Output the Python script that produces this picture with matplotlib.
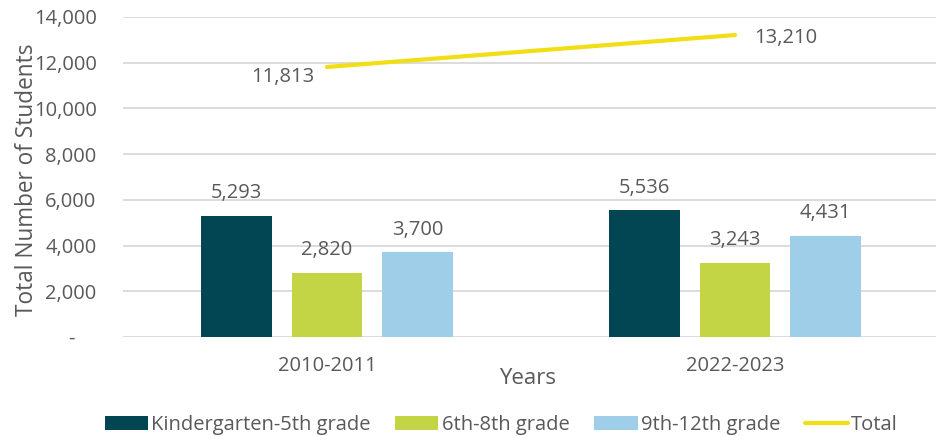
import numpy as np
import matplotlib
matplotlib.use("Agg")
import matplotlib.pyplot as plt
from matplotlib.ticker import FuncFormatter

# enrollment by grade band
years = ["2010-2011", "2022-2023"]
k5 = [5293, 5536]
g6_8 = [2820, 3243]
g9_12 = [3700, 4431]
total = [11813, 13210]

series_names = ["Kindergarten-5th grade", "6th-8th grade", "9th-12th grade"]
colores = ["#024653", "#C3D545", "#9FCFE8"]
amarillo = "#F2DE14"
gris = "#595959"
fs = 14.5

plt.rcParams["font.family"] = ["Open Sans", "DejaVu Sans"]
plt.rcParams["font.size"] = fs

fig = plt.figure(figsize=(9.37, 4.36), dpi=100)
ax = fig.add_axes([123 / 937, 1 - 337 / 436, 816 / 937, 320 / 436])

x = np.arange(len(years))
ancho = 0.174
sep = 0.222
barras = []
for i, (vals, nombre, c) in enumerate(zip([k5, g6_8, g9_12], series_names, colores)):
    pos = x + (i - 1) * sep
    barras.append(ax.bar(pos, vals, ancho, color=c, label=nombre, zorder=3))
    for xp, v in zip(pos, vals):
        ax.annotate(f"{v:,}", (xp, v), xytext=(0, 16.5), textcoords="offset points",
                    ha="center", va="center", color=gris, fontsize=fs)

linea, = ax.plot(x, total, color=amarillo, lw=3, solid_capstyle="round", label="Total", zorder=4)
ax.annotate(f"{total[0]:,}", (x[0], total[0]), xytext=(-9, -7.5), textcoords="offset points",
            ha="right", va="center", color=gris, fontsize=fs)
ax.annotate(f"{total[1]:,}", (x[1], total[1]), xytext=(14, -2), textcoords="offset points",
            ha="left", va="center", color=gris, fontsize=fs)

ax.set_xlim(-0.5, 1.5)
ax.set_ylim(0, 14000)
ax.set_yticks(np.arange(0, 14001, 2000))
ax.yaxis.set_major_formatter(FuncFormatter(lambda v, p: "-    " if v == 0 else f"{int(v):,}"))
ax.set_xticks(x)
ax.set_xticklabels(years)
ax.tick_params(axis="both", length=0, colors=gris, labelsize=fs)
ax.tick_params(axis="y", pad=19)
ax.tick_params(axis="x", pad=14)
ax.grid(axis="y", color="#d9d9d9", lw=1.3, zorder=0)
for s in ax.spines.values():
    s.set_visible(False)

ax.set_ylabel("Total Number of Students", color=gris, fontsize=16.3)
ax.yaxis.set_label_coords(-0.103, 0.49)
ax.set_xlabel("Years", color=gris, fontsize=16)
ax.xaxis.set_label_coords(0.496, -0.098)

fig.legend(barras + [linea], series_names + ["Total"], loc="center",
           bbox_to_anchor=(0.535, 0.025), ncol=4, frameon=False,
           handlelength=2.14, handleheight=0.65, handletextpad=0.15, columnspacing=1.25,
           labelcolor=gris, fontsize=fs)

fig.savefig("out.png", dpi=100)
